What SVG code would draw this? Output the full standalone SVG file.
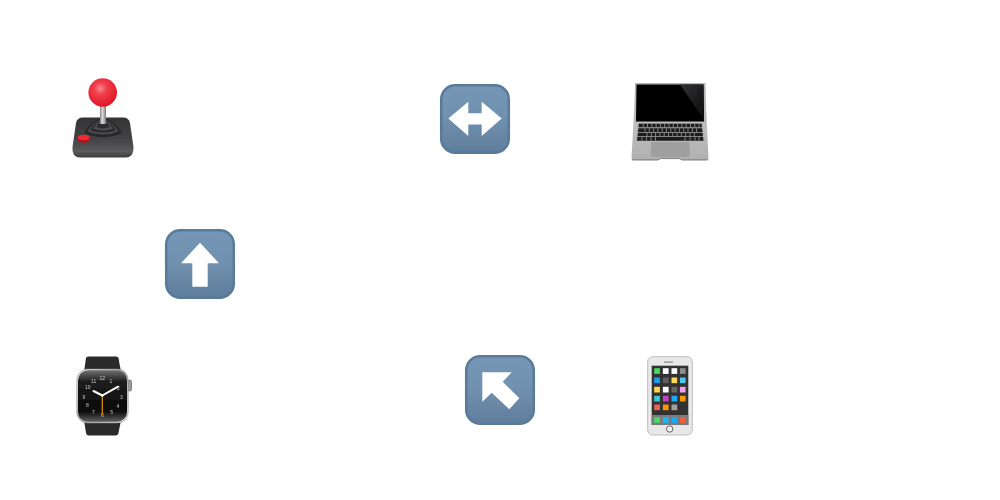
<svg xmlns="http://www.w3.org/2000/svg" width="1000" height="500" viewBox="0 0 1000 500">
<defs>
<linearGradient id="sq" x1="0" y1="0" x2="0" y2="1"><stop offset="0" stop-color="#7596b5"/><stop offset="0.45" stop-color="#7191b0"/><stop offset="1" stop-color="#5f7e9c"/></linearGradient>
<radialGradient id="ball" cx="0.42" cy="0.36" r="0.7"><stop offset="0" stop-color="#f58a92"/><stop offset="0.3" stop-color="#f0404c"/><stop offset="0.8" stop-color="#e61e2c"/><stop offset="1" stop-color="#cc1420"/></radialGradient>
<linearGradient id="stem" x1="0" y1="0" x2="1" y2="0"><stop offset="0" stop-color="#808080"/><stop offset="0.4" stop-color="#dcdcdc"/><stop offset="1" stop-color="#777"/></linearGradient>
<linearGradient id="base" x1="0" y1="0" x2="0" y2="1"><stop offset="0" stop-color="#333335"/><stop offset="0.55" stop-color="#444446"/><stop offset="0.85" stop-color="#5a5a5c"/><stop offset="1" stop-color="#3c3c3e"/></linearGradient>
<linearGradient id="lapbase" x1="0" y1="0" x2="0" y2="1"><stop offset="0" stop-color="#cfcfcf"/><stop offset="1" stop-color="#b0b0b0"/></linearGradient>
<linearGradient id="gloss" x1="0" y1="0" x2="1" y2="1"><stop offset="0" stop-color="#333335"/><stop offset="1" stop-color="#0a0a0a"/></linearGradient>
<linearGradient id="dial" x1="0" y1="0" x2="0" y2="1"><stop offset="0" stop-color="#707070"/><stop offset="0.22" stop-color="#1e1e1e"/><stop offset="0.8" stop-color="#0a0a0a"/><stop offset="1" stop-color="#606060"/></linearGradient>
<linearGradient id="case" x1="0" y1="0" x2="1" y2="1"><stop offset="0" stop-color="#eeeeee"/><stop offset="0.5" stop-color="#a8a8a8"/><stop offset="1" stop-color="#dedede"/></linearGradient>
<filter id="soft" x="-5%" y="-5%" width="110%" height="110%"><feGaussianBlur stdDeviation="0.4"/></filter>
</defs>
<style>
.sq{fill:url(#sq);stroke:#5a7a9a;stroke-width:2.500}
.ar{fill:#fff}
.num{font-family:"Liberation Sans",Arial,sans-serif;font-size:5px;fill:#c8c8c8;text-anchor:middle}
</style>
<rect width="1000" height="500" fill="#fff"/>

<g id="joystick" filter="url(#soft)">
<path d="M83 117.500H123Q129 117.500 130 123L133.500 147Q134 157 126 157.500H80Q71.500 157 72.500 147L76 123Q77 117.500 83 117.500Z" fill="url(#base)"/>
<path d="M84 133Q90 123 99 119H107Q116 123 122 133Q103 141 84 133Z" fill="#252527"/>
<path d="M87 131.500Q92 124 99.500 120H106.500Q114 124 119 131.500Q103 138 87 131.500Z" fill="#4a4a4c"/>
<path d="M90 130Q94 124 100 120.500H106Q112 124 116 130Q103 135 90 130Z" fill="#2a2a2c"/>
<path d="M93 128.500Q96 124 100 121H106Q110 124 113 128.500Q103 132.500 93 128.500Z" fill="#505052"/>
<path d="M96 127Q98 124 100 122H106Q108 124 110 127Q103 130 96 127Z" fill="#2e2e30"/>
<rect x="100" y="104" width="6" height="20" fill="url(#stem)"/>
<circle cx="102.700" cy="92.500" r="14.300" fill="url(#ball)"/>
<ellipse cx="83.700" cy="138.700" rx="6.500" ry="4" fill="#b8101c"/>
<ellipse cx="83.700" cy="137.500" rx="6" ry="2.800" fill="#ee2c34"/>
</g>

<g id="left-right-arrow">
<rect class="sq" x="441.200" y="85.200" width="67.600" height="67.600" rx="14"/>
<path class="ar" d="M448.300 118.500L468.300 101.700V113.300H481.700V101.700L501.700 118.500L481.700 136V124.500H468.300V136Z"/>
</g>

<g id="laptop" filter="url(#soft)">
<path d="M635.500 83H705L708.500 158.500Q708.500 160.500 706 160.500H682L680 159H660L658 160.500H634Q631.500 160.500 631.500 158.500Z" fill="url(#lapbase)"/>
<path d="M635 83H705.500L706 122H634.500Z" fill="#b8b8b8"/>
<path d="M636.500 84.500H703.500L704 121.500H636Z" fill="#000"/>
<path d="M680 84.500H703.500L704 120Z" fill="url(#gloss)"/>
<path d="M638 123H702L704.500 141H636Z" fill="#a8a8a8"/>
<g fill="#1c1c1c">
<path d="M639 123.700H701.500L702 127.300H638.500Z"/>
<path d="M638.500 128.300H702L702.500 131.900H638Z"/>
<path d="M638 132.700H702.500L703 136.200H637.500Z"/>
<path d="M637.500 137H703L703.500 140.700H637Z"/>
</g>
<g stroke="#a0a0a0" stroke-width="0.800">
<path d="M643.200 123.700V127.300M647.500 123.700V127.300M651.800 123.700V127.300M656.100 123.700V127.300M660.400 123.700V127.300M664.700 123.700V127.300M669 123.700V127.300M673.300 123.700V127.300M677.600 123.700V127.300M681.900 123.700V127.300M686.200 123.700V127.300M690.500 123.700V127.300M694.800 123.700V127.300M699 123.700V127.300"/>
<path d="M645 128.300V131.900M649.300 128.300V131.900M653.600 128.300V131.900M657.900 128.300V131.900M662.200 128.300V131.900M666.500 128.300V131.900M670.800 128.300V131.900M675.100 128.300V131.900M679.400 128.300V131.900M683.700 128.300V131.900M688 128.300V131.900M692.300 128.300V131.900M696.600 128.300V131.900"/>
<path d="M647 132.700V136.200M651.300 132.700V136.200M655.600 132.700V136.200M659.900 132.700V136.200M664.200 132.700V136.200M668.500 132.700V136.200M672.800 132.700V136.200M677.100 132.700V136.200M681.400 132.700V136.200M685.700 132.700V136.200M690 132.700V136.200M694.300 132.700V136.200"/>
<path d="M642 137V140.700M646.500 137V140.700M651 137V140.700M655.500 137V140.700M685 137V140.700M690 137V140.700M695 137V140.700M699 137V140.700"/>
</g>
<rect x="651" y="142" width="38.500" height="15" fill="#9f9f9f"/>
<path d="M632 159.800H658L660 158.600H680L682 159.800H708" fill="none" stroke="#777" stroke-width="0.800"/>
</g>

<g id="up-arrow">
<rect class="sq" x="166.200" y="230.200" width="67.600" height="67.600" rx="14"/>
<path class="ar" d="M200 242.700L219 263.300H207.700V286.700H192.300V263.300H181Z"/>
</g>

<g id="watch" filter="url(#soft)">
<path d="M88 356.500H116Q118 356.500 118.500 358L121 372H84L86 358Q86.500 356.500 88 356.500Z" fill="#2a2a2a"/>
<path d="M84 420H121L118.500 433Q118 435.500 115 435.500H89Q86.500 435.500 86 433Z" fill="#2a2a2a"/>
<rect x="128" y="380" width="3.500" height="11" rx="1.500" fill="#9a9a9a" stroke="#555" stroke-width="0.600"/>
<rect x="76.700" y="369" width="51.600" height="54" rx="11" fill="url(#case)" stroke="#8a8a8a" stroke-width="0.500"/>
<rect x="78" y="370.300" width="49" height="51.400" rx="10" fill="url(#dial)"/>
<g>
<text class="num" x="102.300" y="380.200">12</text>
<text class="num" x="111" y="382.600">1</text>
<text class="num" x="118.300" y="389.600">2</text>
<text class="num" x="121.300" y="398.600">3</text>
<text class="num" x="118" y="407.900">4</text>
<text class="num" x="111.700" y="413.600">5</text>
<text class="num" x="102.300" y="416.500">6</text>
<text class="num" x="93.300" y="413.600">7</text>
<text class="num" x="87.300" y="407.200">8</text>
<text class="num" x="84" y="398.600">9</text>
<text class="num" x="87.700" y="389.200">10</text>
<text class="num" x="93.700" y="382.600">11</text>
</g>
<path d="M102.300 395.500L93.500 391M102.300 395.500L118 386.700" stroke="#fff" stroke-width="2" stroke-linecap="round" fill="none"/>
<path d="M102.300 395.500V415" stroke="#e8910c" stroke-width="1.200" fill="none"/>
<circle cx="102.300" cy="395.500" r="1.200" fill="#fff"/>
</g>

<g id="up-left-arrow">
<rect class="sq" x="466.200" y="356.200" width="67.600" height="67.600" rx="14"/>
<path class="ar" d="M482.300 372.300H511.700L502.700 381.700L519.300 398.300L509.300 409.300L491.700 392.700L482.300 401.700Z"/>
</g>

<g id="phone" filter="url(#soft)">
<rect x="647.700" y="356.700" width="44.600" height="78.300" rx="5" fill="#e8e8e8" stroke="#bdbdbd" stroke-width="1"/>
<rect x="651.700" y="365.700" width="36.600" height="59.300" fill="#303032"/>
<rect x="651.700" y="415" width="36.600" height="10" fill="#7a7a7c"/>
<rect x="664" y="361.500" width="9" height="1.200" fill="#888"/>
<circle cx="669.700" cy="429" r="3.200" fill="#f4f4f4" stroke="#555" stroke-width="0.900"/>
<g>
<rect x="654.200" y="368.200" width="5.700" height="5.700" fill="#4cd964"/>
<rect x="662.900" y="368.200" width="5.700" height="5.700" fill="#fff"/>
<rect x="671.500" y="368.200" width="5.700" height="5.700" fill="#fff"/>
<rect x="679.900" y="368.200" width="5.700" height="5.700" fill="#8e8e8e"/>
<rect x="654.200" y="377.500" width="5.700" height="5.700" fill="#1e9df0"/>
<rect x="662.900" y="377.500" width="5.700" height="5.700" fill="#5e5e5e"/>
<rect x="671.500" y="377.500" width="5.700" height="5.700" fill="#ffdd57"/>
<rect x="679.900" y="377.500" width="5.700" height="5.700" fill="#4fc8f0"/>
<rect x="654.200" y="386.800" width="5.700" height="5.700" fill="#ffd84d"/>
<rect x="662.900" y="386.800" width="5.700" height="5.700" fill="#fff"/>
<rect x="671.500" y="386.800" width="5.700" height="5.700" fill="#666"/>
<rect x="679.900" y="386.800" width="5.700" height="5.700" fill="#f59ee8"/>
<rect x="654.200" y="395.800" width="5.700" height="5.700" fill="#3cc8d8"/>
<rect x="662.900" y="395.800" width="5.700" height="5.700" fill="#c83cc8"/>
<rect x="671.500" y="395.800" width="5.700" height="5.700" fill="#1eaaf5"/>
<rect x="679.900" y="395.800" width="5.700" height="5.700" fill="#ff9500"/>
<rect x="654.200" y="404.500" width="5.700" height="5.700" fill="#f0605a"/>
<rect x="662.900" y="404.500" width="5.700" height="5.700" fill="#ff9500"/>
<rect x="671.500" y="404.500" width="5.700" height="5.700" fill="#a0a0a0"/>
<rect x="654.200" y="417.200" width="5.700" height="5.700" fill="#4cd964"/>
<rect x="662.900" y="417.200" width="5.700" height="5.700" fill="#1eb8f5"/>
<rect x="671.500" y="417.200" width="5.700" height="5.700" fill="#1eaaf5"/>
<rect x="679.900" y="417.200" width="5.700" height="5.700" fill="#f0603c"/>
</g>
</g>

<g id="connectors"></g>
</svg>
